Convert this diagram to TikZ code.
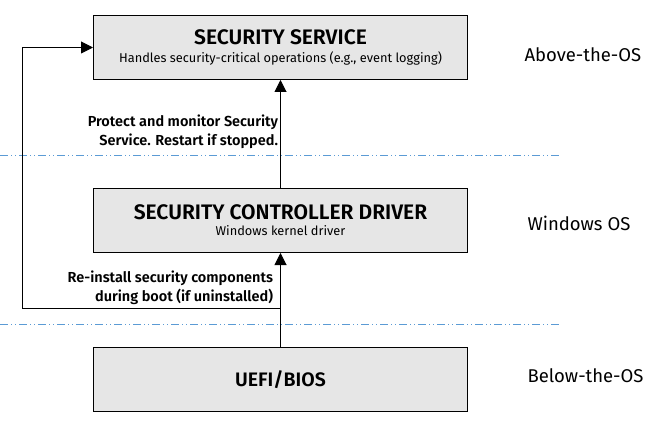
\documentclass[tikz,border=0pt]{standalone}
\usepackage{fontspec}
\setmainfont{Fira Sans}[BoldFont={Fira Sans SemiBold}]
\usetikzlibrary{arrows.meta,calc,positioning}
\definecolor{layerline}{HTML}{5B9BD5}
\definecolor{modfill}{HTML}{E6E6E6}
\tikzstyle{module} = [rectangle,minimum width=374pt,minimum height=64pt,align=center,draw=black,fill=modfill,line width=1pt,inner sep=0pt]
\tikzstyle{note} = [align=right,font=\fontsize{14.5}{19.5}\selectfont\bfseries,inner sep=0pt]
\tikzstyle{layer} = [anchor=base west,font=\fontsize{18.5}{22}\selectfont,inner sep=0pt]
\tikzstyle{boundary} = [draw=layerline,line width=0.8pt,dash pattern=on 8pt off 3pt on 1pt off 3pt on 1pt off 3pt]

\begin{document}
\begin{tikzpicture}[x=1pt,y=1pt,->,>={Triangle[length=12pt,width=12pt]},line width=1pt,node distance=108pt]
\useasboundingbox (0,0) rectangle (668,426);

\node (service) [module] at (280.5,378.5) {{\fontsize{21}{22}\selectfont\bfseries SECURITY SERVICE}\\[6pt]{\fontsize{12.8}{15}\selectfont Handles security-critical operations (e.g., event logging)}};
\node (driver) [module,below=of service] {{\fontsize{21}{22}\selectfont\bfseries SECURITY CONTROLLER DRIVER}\\[4pt]{\fontsize{12.8}{15}\selectfont Windows kernel driver}};
\node (uefi) [module,below=94pt of driver] {\fontsize{19.5}{22}\selectfont\bfseries UEFI/BIOS};

\node (above) [layer] at (524,364) {Above-the-OS};
\node (winos) [layer] at (527,196) {Windows OS};
\node (below) [layer] at (527,44) {Below-the-OS};

\coordinate (tap) at ($(uefi.north)+(0,39)$);
\coordinate (loop) at ($(service.west)+(-71,0)$);

\draw[-,boundary] (0,271)--(560,271);
\draw[-,boundary] (0,102)--(560,102);

\draw (driver)--node[note,left,pos=0.52,xshift=-2pt]{Protect and monitor Security\\Service. Restart if stopped.}(service);
\draw (uefi)--node[note,left,pos=0.63,xshift=-7pt]{Re-install security components\\during boot (if uninstalled)}(driver);
\draw (tap)-|(loop)--(service.west);

\end{tikzpicture}
\end{document}
